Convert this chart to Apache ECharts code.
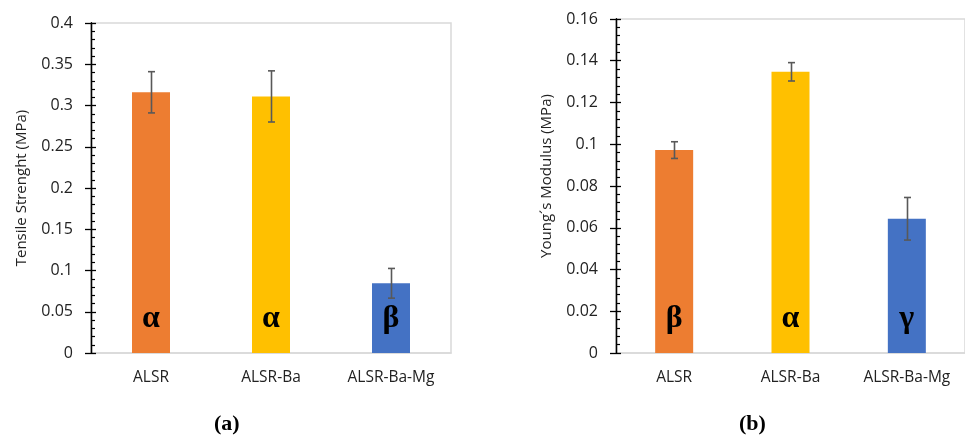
<!DOCTYPE html>
<html>
<head>
<meta charset="utf-8">
<script src="https://cdn.jsdelivr.net/npm/echarts@6/dist/echarts.min.js"></script>
<style>html,body{margin:0;padding:0;background:#fff;}#c{width:965px;height:436px;}</style>
</head>
<body>
<div id="c"></div>
<script>
const categories = ['ALSR', 'ALSR-Ba', 'ALSR-Ba-Mg'];
const colors = ['#ED7D31', '#FFC000', '#4472C4'];
const tensileMean = [0.316, 0.311, 0.0845];
const tensileErr = [0.025, 0.031, 0.018];
const tensileLetters = ['α', 'α', 'β'];
const youngMean = [0.0972, 0.1347, 0.0643];
const youngErr = [0.004, 0.0044, 0.0102];
const youngLetters = ['β', 'α', 'γ'];
const tensileTicks = {min: 0, max: 0.4, interval: 0.05};
const youngTicks = {min: 0, max: 0.16, interval: 0.02};

const font = 'Open Sans';
const axisColor = '#000';

function yAxes(gridIndex, ticks, name, namePad) {
  return [{
    type: 'value', gridIndex: gridIndex, position: 'left', offset: 0,
    min: ticks.min, max: ticks.max, interval: ticks.interval,
    name: name, nameLocation: 'middle', nameGap: 62,
    nameTextStyle: {fontFamily: font, fontSize: 15, color: '#222', padding: namePad},
    axisLine: {show: true, lineStyle: {color: axisColor, width: 1.3}},
    axisTick: {show: true, length: 6, lineStyle: {color: axisColor, width: 1.3}},
    axisLabel: {fontFamily: font, fontSize: 16, color: '#222', margin: 18,
      formatter: v => String(+v.toFixed(4))},
    splitLine: {show: false},
    z: 5
  }, {
    type: 'value', gridIndex: gridIndex, position: 'left', offset: 0,
    min: ticks.min, max: ticks.max, interval: ticks.interval,
    axisLine: {show: true, lineStyle: {color: axisColor, width: 1.3}},
    axisTick: {show: true, inside: true, length: 5, lineStyle: {color: axisColor, width: 1.3}},
    minorTick: {show: true, splitNumber: 5, length: 4, lineStyle: {color: axisColor, width: 1.2}},
    axisLabel: {show: false},
    splitLine: {show: false},
    z: 5
  }];
}

function xAxis(gridIndex) {
  return {
    type: 'category', gridIndex: gridIndex, data: categories,
    axisLine: {show: true, lineStyle: {color: '#d9d9d9', width: 1.5}},
    axisTick: {show: false},
    axisLabel: {fontFamily: font, fontSize: 15.5, color: '#222', margin: 17}
  };
}

function barSeries(axisIdx, yIdx, means, letters) {
  return {
    type: 'bar', xAxisIndex: axisIdx, yAxisIndex: yIdx, barWidth: 38,
    data: means.map((v, i) => ({value: v, itemStyle: {color: colors[i]}})),
    label: {
      show: true, position: 'insideBottom', distance: 18,
      formatter: p => letters[p.dataIndex],
      fontFamily: 'Liberation Serif', fontWeight: 'bold', fontSize: 32, color: '#000', lineHeight: 32
    },
    z: 2
  };
}

function errSeries(axisIdx, yIdx, means, errs) {
  return {
    type: 'custom', xAxisIndex: axisIdx, yAxisIndex: yIdx, z: 5,
    data: means.map((v, i) => [i, v - errs[i], v + errs[i]]),
    renderItem: function (params, api) {
      const lo = api.coord([api.value(0), api.value(1)]);
      const hi = api.coord([api.value(0), api.value(2)]);
      const x = Math.round(lo[0]) + 0.5;
      const cw = 3.5;
      const style = {stroke: '#595959', lineWidth: 1.6};
      return {type: 'group', children: [
        {type: 'line', shape: {x1: x, y1: lo[1], x2: x, y2: hi[1]}, style: style},
        {type: 'line', shape: {x1: x - cw, y1: lo[1], x2: x + cw, y2: lo[1]}, style: style},
        {type: 'line', shape: {x1: x - cw, y1: hi[1], x2: x + cw, y2: hi[1]}, style: style}
      ]};
    }
  };
}

const chart = echarts.init(document.getElementById('c'));
chart.setOption({
  backgroundColor: '#fff',
  animation: false,
  grid: [
    {left: 91, top: 23, width: 360, height: 330, show: true, borderColor: '#d9d9d9', borderWidth: 1.5, containLabel: false},
    {left: 616, top: 19, width: 360, height: 334, show: true, borderColor: '#d9d9d9', borderWidth: 1.5, containLabel: false}
  ],
  xAxis: [xAxis(0), xAxis(1)],
  yAxis: [].concat(
    yAxes(0, tensileTicks, 'Tensile Strenght (MPa)', [0, 0, 0, 0]),
    yAxes(1, youngTicks, 'Young´s Modulus (MPa)', [0, 0, 0, 20])
  ),
  series: [
    barSeries(0, 0, tensileMean, tensileLetters),
    errSeries(0, 0, tensileMean, tensileErr),
    barSeries(1, 2, youngMean, youngLetters),
    errSeries(1, 2, youngMean, youngErr)
  ],
  graphic: [
    {type: 'text', left: 214, top: 413, style: {text: '(a)', fontFamily: 'Liberation Serif', fontWeight: 'bold', fontSize: 22, fill: '#000'}},
    {type: 'text', left: 739, top: 413, style: {text: '(b)', fontFamily: 'Liberation Serif', fontWeight: 'bold', fontSize: 22, fill: '#000'}}
  ]
});
</script>
</body>
</html>
